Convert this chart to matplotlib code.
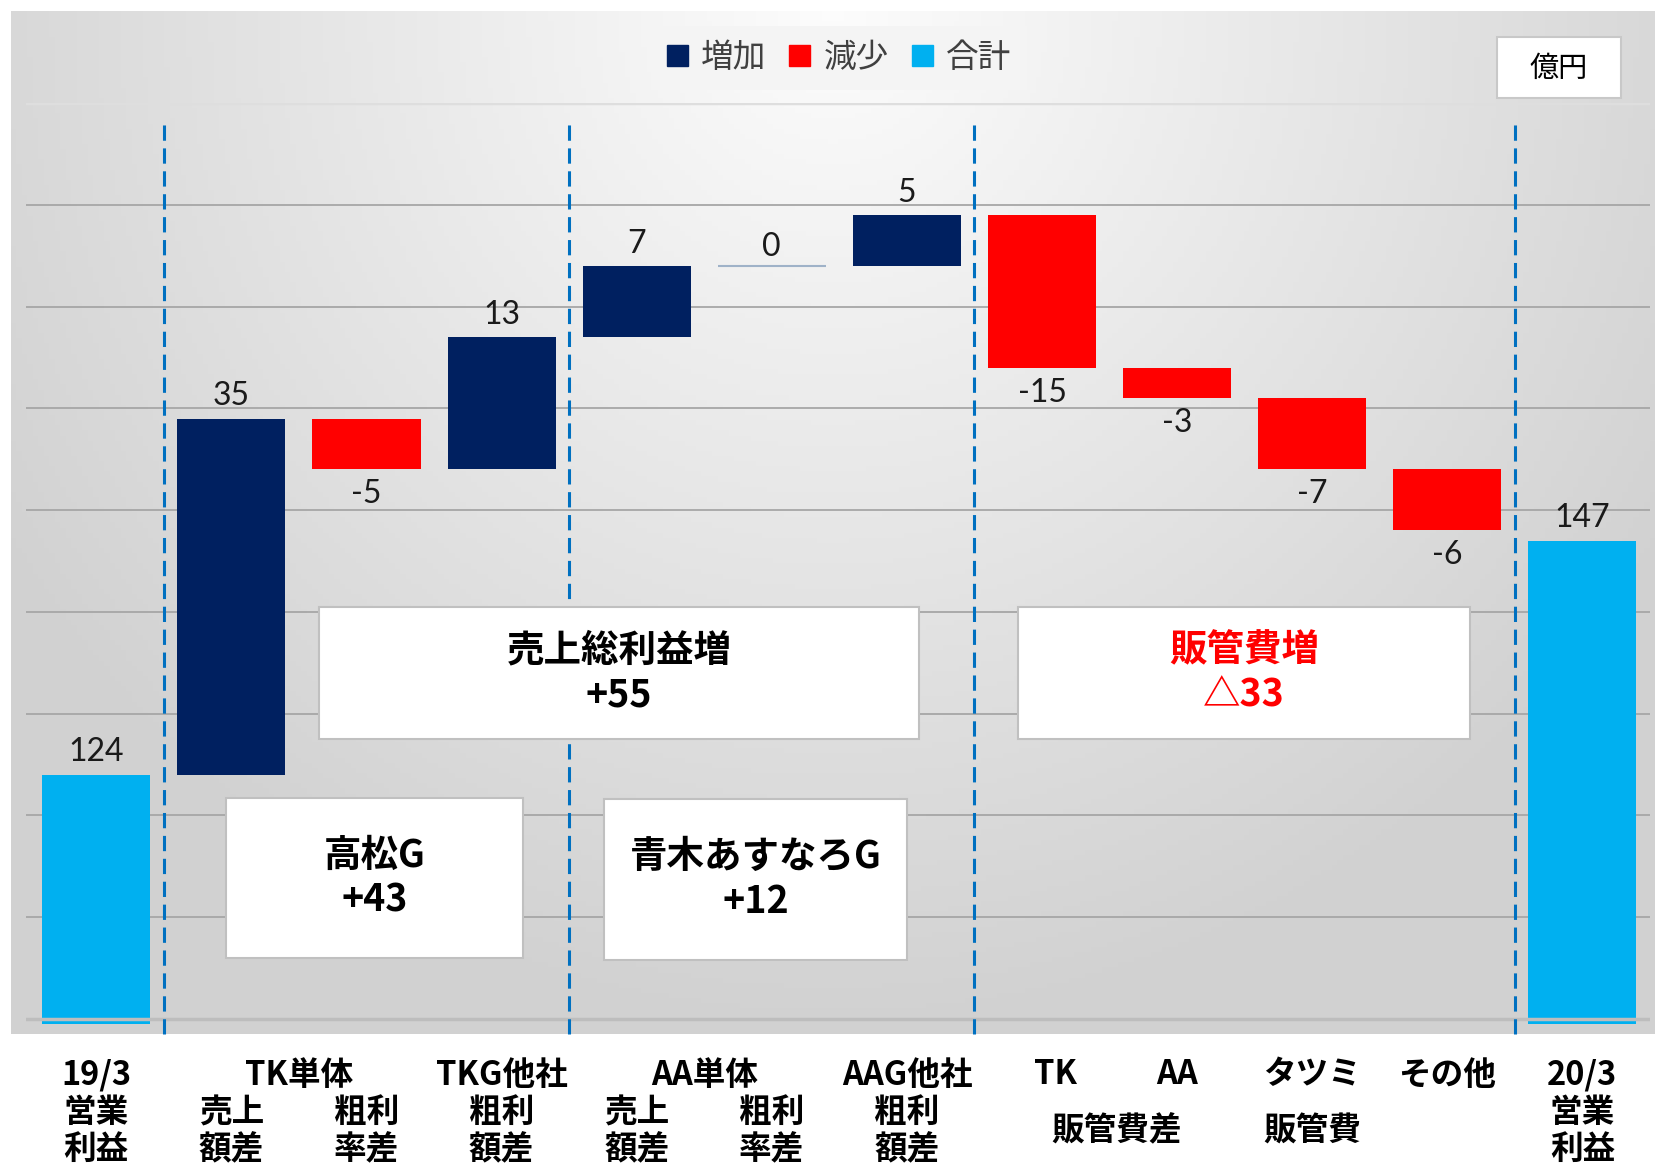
import numpy as np
import matplotlib
matplotlib.use("Agg")
import matplotlib.pyplot as plt
from matplotlib.patches import Rectangle, Patch

plt.rcParams['font.family'] = ['Noto Sans CJK JP', 'DejaVu Sans']

# データ (億円)
start_total = 124
end_total = 147
deltas = [35, -5, 13, 7, 0, 5, -15, -3, -7, -6]
delta_labels = ['35', '-5', '13', '7', '0', '5', '-15', '-3', '-7', '-6']

# 下の項目名: (x位置, テキスト)
top_labels = [(0, '19/3'), (1.5, 'TK単体'), (3, 'TKG他社'), (4.5, 'AA単体'),
              (6, 'AAG他社'), (7.1, 'TK'), (8.0, 'AA'), (9, 'タツミ'),
              (10, 'その他'), (11, '20/3')]
sub_labels = [(0, '営業\n利益'), (1, '売上\n額差'), (2, '粗利\n率差'), (3, '粗利\n額差'),
              (4, '売上\n額差'), (5, '粗利\n率差'), (6, '粗利\n額差'),
              (7.55, '販管費差'), (9, '販管費'), (11, '営業\n利益')]

# 囲みコメント
notes = ['売上総利益増\n+55', '販管費増\n△33', '高松G\n+43', '青木あすなろG\n+12']
note_colors = ['black', '#FF0000', 'black', 'black']
note_boxes = [(1.65, 127.5, 6.09, 140.5), (6.82, 127.5, 10.17, 140.5),
              (0.96, 106.0, 3.16, 121.7), (3.76, 105.8, 6.00, 121.6)]

dividers = [0.5, 3.5, 6.5, 10.5]

NAVY = '#002060'
RED = '#FF0000'
CYAN = '#00B0F0'

W, H = 1655, 1165
fig = plt.figure(figsize=(W / 100, H / 100), dpi=100)

# 背景のグラデーション
bg = fig.add_axes([11 / W, 1 - 1034 / H, (W - 11) / W, (1034 - 11) / H])
yy, xx = np.mgrid[0:1:200j, 0:1:300j]
r = np.sqrt(((xx - 0.5) / 0.6) ** 2 + (yy / 1.0) ** 2)
g = 0.99 - 0.17 * np.clip(r, 0, 1)
bg.imshow(np.dstack([g, g, g]), aspect='auto', extent=[0, 1, 1, 0])
bg.axis('off')

# メイン
ybot, ytop = 99.5, 190
px_per = 915.2 / 90
ax_bottom_px = 1018.6 + (100 - ybot) * px_per
ax_h_px = ax_bottom_px - 103.4
ax = fig.add_axes([26 / W, 1 - ax_bottom_px / H, (1650 - 26) / W, ax_h_px / H])
ax.set_facecolor('none')
ax.set_xlim(-0.52, 11.5)
ax.set_ylim(ybot, ytop)
for s in ax.spines.values():
    s.set_visible(False)
ax.set_xticks([])
ax.set_yticks([])

for v in range(110, 190, 10):
    ax.axhline(v, color='#a6a6a6', lw=1.3, zorder=1)
ax.axhline(190, color='#dedede', lw=2.5, zorder=1)

n = len(deltas)
bw = 0.8
vfont = dict(family='Lato', fontsize=23, color='#1a1a1a')

# 合計棒
ax.bar([0, n + 1], [start_total - ybot, end_total - ybot], bottom=ybot, width=bw,
       color=CYAN, zorder=2)
ax.axhline(100, color='#bdbdbd', lw=2.5, zorder=3)
for x, v in [(0, start_total), (n + 1, end_total)]:
    ax.annotate(str(v), (x, v), xytext=(0, 16), textcoords='offset points',
                ha='center', va='center', **vfont)

# 増減
cum = start_total
for i, (d, lab) in enumerate(zip(deltas, delta_labels)):
    x = i + 1
    if d == 0:
        ax.hlines(cum, x - bw / 2, x + bw / 2, color='#9fb2c8', lw=1.5, zorder=2)
        ax.annotate(lab, (x, cum), xytext=(0, 14), textcoords='offset points',
                    ha='center', va='center', **vfont)
    elif d > 0:
        ax.bar(x, d, bottom=cum, width=bw, color=NAVY, zorder=2)
        ax.annotate(lab, (x, cum + d), xytext=(0, 16), textcoords='offset points',
                    ha='center', va='center', **vfont)
    else:
        ax.bar(x, -d, bottom=cum + d, width=bw, color=RED, zorder=2)
        ax.annotate(lab, (x, cum + d), xytext=(0, -18), textcoords='offset points',
                    ha='center', va='center', **vfont)
    cum += d

# 区切り線
for dx in dividers:
    ax.plot([dx, dx], [98.5, 188.3], color='#0070C0', lw=2.2, ls=(0, (5, 2.5)),
            zorder=4, clip_on=False)

# 囲み
for txt, col, (x0, y0, x1, y1) in zip(notes, note_colors, note_boxes):
    ax.add_patch(Rectangle((x0, y0), x1 - x0, y1 - y0, facecolor='white',
                           edgecolor='#c0c0c0', lw=1.5, zorder=5))
    ax.text((x0 + x1) / 2, (y0 + y1) / 2, txt, ha='center', va='center',
            fontsize=27, fontweight='bold', color=col, linespacing=1.2, zorder=6)

# 項目名
trans = ax.get_xaxis_transform()
lfont = dict(fontsize=23.5, fontweight='bold', color='black')
for x, t in top_labels:
    ax.text(x, 1 - (1075 - 103.4) / ax_h_px, t, transform=trans,
            ha='center', va='center', **lfont)
for x, t in sub_labels:
    ax.text(x, 1 - (1131 - 103.4) / ax_h_px, t, transform=trans,
            ha='center', va='center', linespacing=1.15, **lfont)

# 凡例
handles = [Patch(color=NAVY, label='増加'), Patch(color=RED, label='減少'),
           Patch(color=CYAN, label='合計')]
leg = fig.legend(handles=handles, loc='center', bbox_to_anchor=(839 / W, 1 - 58 / H),
                 ncol=3, fontsize=23.5, frameon=True, facecolor='#f4f4f4', edgecolor='none',
                 framealpha=1, handlelength=0.65, handleheight=0.65, handletextpad=0.4,
                 columnspacing=0.7, borderpad=0.5, fancybox=False)
for t in leg.get_texts():
    t.set_color('#404040')

# 単位
fig.add_artist(Rectangle((1497 / W, 1 - 98 / H), 124 / W, 61 / H, transform=fig.transFigure,
                         facecolor='white', edgecolor='#c8c8c8', lw=1.5))
fig.text(1559 / W, 1 - 69 / H, '億円', ha='center', va='center', fontsize=21, color='black')

fig.savefig('out.png', dpi=100)
